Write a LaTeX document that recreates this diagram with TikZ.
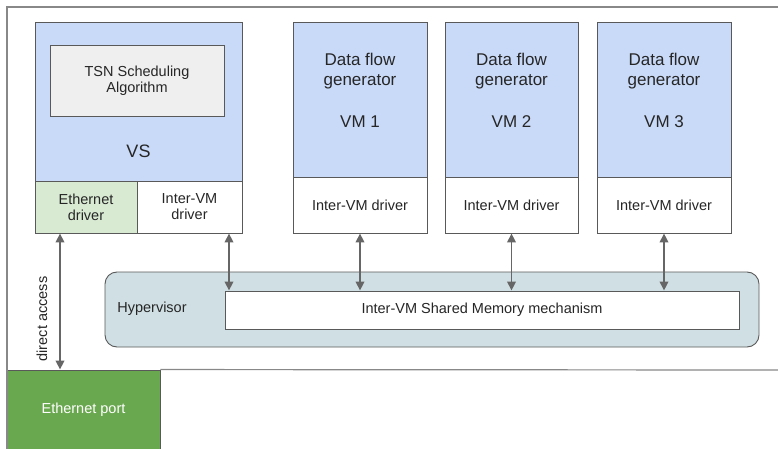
\documentclass[tikz,border=0pt]{standalone}
\usepackage{fontspec}
\setmainfont{Liberation Sans}
\usetikzlibrary{arrows.meta,calc}
\definecolor{vmblue}{HTML}{C9DAF8}
\definecolor{drvgreen}{HTML}{D9EAD3}
\definecolor{tsngray}{HTML}{EFEFEF}
\definecolor{hypblue}{HTML}{D0DFE3}
\definecolor{portgreen}{HTML}{6AA84F}
\definecolor{edge}{HTML}{595959}
\definecolor{arrowgray}{HTML}{666666}
\definecolor{framegray}{HTML}{888888}
\tikzset{
  box/.style={draw=edge, line width=0.9pt, rectangle, inner sep=0pt, align=center, font=\fontsize{14.5}{16}\selectfont, text=black!85},
  bigtxt/.style={font=\fontsize{17}{20}\selectfont, text=black!85, align=center},
  link/.style={draw=arrowgray, line width=1.8pt, {Triangle[length=9pt,width=8.5pt]}-{Triangle[length=9pt,width=8.5pt]}},
  frame/.style={draw=framegray, line width=1.2pt}
}
\begin{document}
\begin{tikzpicture}[x=1pt,y=-1pt]
\useasboundingbox[fill=white] (0,0) rectangle (778,449);
% frame
\coordinate (ftl) at (7,7);
\coordinate (ftr) at (778,7);
\coordinate (fbl) at (7,449);
\coordinate (fbr) at (778,370);
% VS
\node[box, fill=vmblue, minimum width=207pt, minimum height=159pt] (vs) at (138.5,101.5) {};
\node[box, fill=tsngray, minimum width=174pt, minimum height=71pt] (tsn) at (137,80.5) {TSN Scheduling\\Algorithm};
\node[bigtxt, font=\fontsize{18}{20}\selectfont] (vslabel) at (138.5,151) {VS};
\node[box, fill=drvgreen, minimum width=102pt, minimum height=52pt] (ethdrv) at (86,207) {Ethernet\\driver};
\node[box, fill=white, minimum width=105pt, minimum height=52pt] (vsdrv) at (189.5,207) {Inter-VM\\driver};
% VMs
\foreach \i/\cx/\w in {1/360/134, 2/511.5/133, 3/664/134}{
  \node[box, fill=vmblue, minimum width=\w pt, minimum height=155pt] (vm\i) at (\cx,99.5) {};
  \node[bigtxt] (vmt\i) at (\cx,71.5) {Data flow\\generator};
  \node[bigtxt] (vmn\i) at (\cx,122) {VM \i};
  \node[box, fill=white, minimum width=\w pt, minimum height=56pt] (drv\i) at (\cx,205) {Inter-VM driver};
}
% Hypervisor
\node[box, fill=hypblue, rounded corners=12pt, minimum width=654pt, minimum height=75pt] (hyp) at (432,309.5) {};
\node[box, fill=white, minimum width=514pt, minimum height=38pt] (shm) at (482,310) {Inter-VM Shared Memory mechanism};
\node[font=\fontsize{14.5}{16}\selectfont, text=black!85] (hyplabel) at (152,309) {Hypervisor};
% Ethernet port
\node[box, fill=portgreen, text=white, minimum width=153pt, minimum height=79pt] (eport) at (83.5,409.5) {Ethernet port};
% frame lines
\draw[frame] (ftr) -- (ftl) -- (fbl);
\draw[frame] (eport.north east) -- (fbr);
% arrows
\coordinate (da) at (60,0);
\coordinate (va) at (229,0);
\draw[link] (ethdrv.south -| da) -- (eport.north -| da);
\draw[link] (vsdrv.south -| va) -- (shm.north -| va);
\foreach \i in {1,2,3}{
  \draw[link] (drv\i.south) -- (shm.north -| drv\i.south);
}
\node[rotate=90, font=\fontsize{14.5}{16}\selectfont, text=black!85] (dalabel) at (42,319) {direct access};
\end{tikzpicture}
\end{document}
